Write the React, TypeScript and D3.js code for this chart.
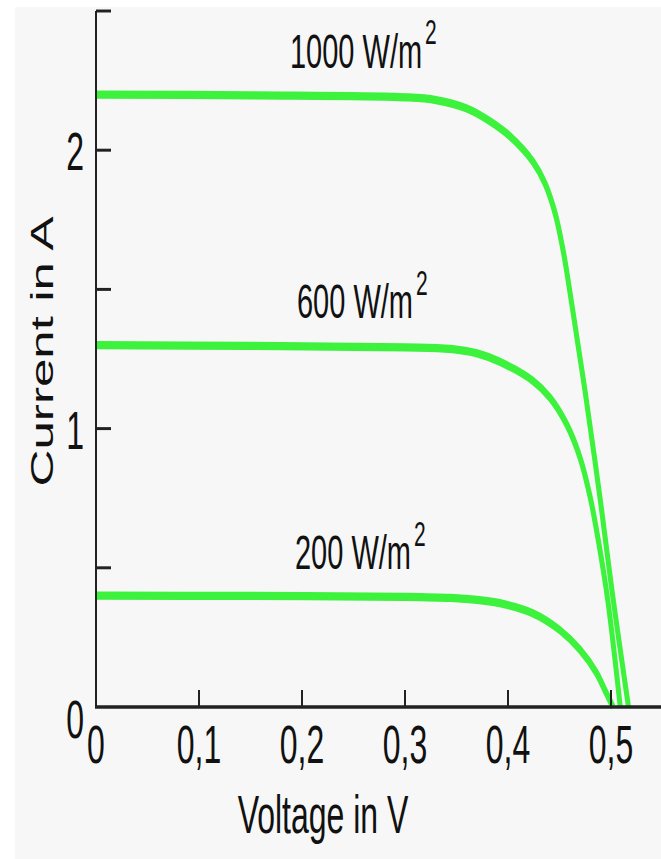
import React from "react"
import { scaleLinear, line, curveCatmullRom } from "d3"

// I-V curves of a solar cell at three irradiance levels
const v1000 = [0, 0.15, 0.3, 0.33, 0.36, 0.38, 0.402, 0.424, 0.436, 0.446, 0.454, 0.461, 0.468, 0.475, 0.489, 0.502, 0.517]
const i1000 = [2.2, 2.197, 2.19, 2.18, 2.15, 2.11, 2.05, 1.96, 1.88, 1.77, 1.63, 1.47, 1.3, 1.13, 0.76, 0.39, 0]

const v600 = [0, 0.15, 0.3, 0.344, 0.37, 0.392, 0.424, 0.441, 0.457, 0.47, 0.48, 0.489, 0.497, 0.509]
const i600 = [1.3, 1.297, 1.292, 1.286, 1.27, 1.24, 1.172, 1.11, 1.015, 0.895, 0.75, 0.57, 0.38, 0]

const v200 = [0, 0.15, 0.3, 0.344, 0.37, 0.392, 0.424, 0.45, 0.47, 0.486, 0.494, 0.502]
const i200 = [0.4, 0.399, 0.396, 0.392, 0.385, 0.373, 0.337, 0.277, 0.205, 0.122, 0.061, 0]

const seriesLabels = ["1000 W/m", "600 W/m", "200 W/m"]
const labelIrr = [2.2, 1.3, 0.4]

const xTicks = [0, 0.1, 0.2, 0.3, 0.4, 0.5]
const xTickLabels = ["0", "0,1", "0,2", "0,3", "0,4", "0,5"]
const yTicks = [0.5, 1, 1.5, 2, 2.5]
const yLabelTicks = [0, 1, 2]
const yTickLabels = ["0", "1", "2"]

// the picture is stretched vertically, so everything is drawn squashed and scaled back up
const S = 1.65
const font = "'Liberation Sans', Arial, Helvetica, sans-serif"
const green = "#3cf23c"
const ink = "#222"

export default function App() {
  const W = 661
  const H = 859

  const x = scaleLinear().domain([0, 0.5]).range([96, 611])
  const y = scaleLinear().domain([0, 2.5]).range([707 / S, 11 / S])

  const path = line<[number, number]>()
    .x(d => x(d[0]))
    .y(d => y(d[1]))
    .curve(curveCatmullRom.alpha(0.5))

  const series = [
    v1000.map((v, i) => [v, i1000[i]] as [number, number]),
    v600.map((v, i) => [v, i600[i]] as [number, number]),
    v200.map((v, i) => [v, i200[i]] as [number, number]),
  ]

  const labelX = [290, 297, 295]

  return (
    <svg
      width={W}
      height={H}
      style={{ position: "absolute", left: 0, top: 0, background: "#fff" }}
    >
      <rect x={15} y={7} width={W - 15} height={H - 7} fill="#f7f7f7" />
      <g transform={`scale(1, ${S})`} fontFamily={font} fill="#111">
        {series.map((s, i) => (
          <path key={i} d={path(s) || ""} fill="none" stroke={green} strokeWidth={5} />
        ))}

        {/* y axis */}
        <line x1={96} x2={96} y1={y(2.5)} y2={y(0)} stroke={ink} strokeWidth={2} />
        {yTicks.map(t => (
          <line key={t} x1={96} x2={111} y1={y(t)} y2={y(t)} stroke={ink} strokeWidth={1.8} />
        ))}
        {yLabelTicks.map((t, i) => (
          <text
            key={t}
            x={84}
            y={y(t) + (t === 0 ? 31 : 20) / S}
            fontSize={32}
            textAnchor="end"
          >
            {yTickLabels[i]}
          </text>
        ))}

        {/* x axis */}
        <line x1={95} x2={W} y1={y(0)} y2={y(0)} stroke={ink} strokeWidth={2.2} />
        {xTicks.map(t => (
          <line key={t} x1={x(t)} x2={x(t)} y1={y(0)} y2={y(0) - 17 / S} stroke={ink} strokeWidth={2} />
        ))}
        {xTicks.map((t, i) => (
          <text key={t} x={x(t)} y={763 / S} fontSize={32} textAnchor="middle">
            {xTickLabels[i]}
          </text>
        ))}

        {/* axis titles */}
        <text x={323} y={833 / S} fontSize={32} textAnchor="middle">
          Voltage in V
        </text>
        <text
          transform={`translate(53, ${351.5 / S}) rotate(-90)`}
          fontSize={31}
          textAnchor="middle"
        >
          Current in A
        </text>

        {/* curve labels */}
        {seriesLabels.map((lab, i) => (
          <text key={lab} x={labelX[i]} y={y(labelIrr[i]) - 27 / S} fontSize={29}>
            {lab}
            <tspan dx={3} dy={-14} fontSize={21}>
              2
            </tspan>
          </text>
        ))}
      </g>
    </svg>
  )
}
